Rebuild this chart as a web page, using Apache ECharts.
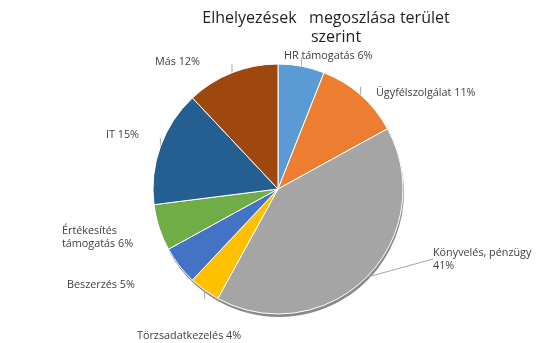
<!DOCTYPE html>
<html><head><meta charset="utf-8">
<script src="https://cdn.jsdelivr.net/npm/echarts@6/dist/echarts.min.js"></script>
<style>html,body{margin:0;padding:0;background:#fff}#c{width:557px;height:343px}</style>
</head><body><div id="c"></div>
<script>
const categories = ['HR támogatás', 'Ügyfélszolgálat', 'Könyvelés, pénzügy', 'Törzsadatkezelés', 'Beszerzés', 'Értékesítés támogatás', 'IT', 'Más'];
const values = [6, 11, 41, 4, 5, 6, 15, 12];
const colors = ['#5B9BD5', '#ED7D31', '#A5A5A5', '#FFC000', '#4472C4', '#70AD47', '#255E91', '#9E480E'];
// label anchor positions (left x, middle y)
const labelPos = [[284, 56], [376, 93], [433, 259], [137, 336], [67, 285], [62, 237], [106, 135], [155, 62]];
// short leader stub direction per slice (-1 up, 1 down, 0 none)
const stubDir = [-1, -1, 0, 1, 0, 0, -1, -1];
const shadowed = [false, false, true, true, true, false, false, false];

const chart = echarts.init(document.getElementById('c'));
const pieBase = {type: 'pie', center: [278, 189], radius: 125, startAngle: 90, clockwise: true};
const titleFont = {fontFamily: 'Open Sans', fontSize: 16, fontWeight: 'normal', color: '#1f1f1f', lineHeight: 19};
chart.setOption({
  animation: false,
  title: {
    text: 'Elhelyezések   megoszlása terület\n{s|szerint}',
    left: 321, top: 4, textAlign: 'center',
    textStyle: Object.assign({rich: {s: Object.assign({padding: [0, 0, 0, 20]}, titleFont)}}, titleFont)
  },
  series: [Object.assign({}, pieBase, {
    z: 2,
    data: categories.map((n, i) => ({
      name: n, value: values[i],
      itemStyle: {color: colors[i]},
      labelLine: {show: i === 2}
    })),
    itemStyle: {borderColor: '#fff', borderWidth: 1},
    label: {
      show: true,
      position: 'outside',
      fontFamily: 'Open Sans', fontSize: 10.8, color: '#404040', lineHeight: 13,
      formatter: p => {
        if (p.dataIndex === 2) return p.name + '\n' + p.value + '%';
        if (p.dataIndex === 5) return p.name.replace(' ', '\n') + ' ' + p.value + '%';
        return p.name + ' ' + p.value + '%';
      }
    },
    labelLine: {length: 6, length2: 0, lineStyle: {color: '#a6a6a6', width: 1}},
    labelLayout: p => ({x: labelPos[p.dataIndex][0], y: labelPos[p.dataIndex][1], align: 'left', verticalAlign: 'middle'})
  }), Object.assign({}, pieBase, {
    z: 1,
    silent: true,
    data: categories.map((n, i) => ({
      name: n, value: values[i],
      itemStyle: {color: 'rgba(0,0,0,0)'},
      label: {show: stubDir[i] !== 0},
      labelLine: {show: stubDir[i] !== 0}
    })),
    label: {position: 'outside', formatter: ' ', fontSize: 1, color: 'rgba(0,0,0,0)'},
    labelLine: {length: 2, length2: 0, lineStyle: {color: '#a6a6a6', width: 1}},
    labelLayout: p => {
      const pts = p.labelLinePoints;
      if (!pts) return {};
      return {x: pts[0][0], y: pts[0][1] + stubDir[p.dataIndex] * 9, align: 'center', verticalAlign: 'middle'};
    }
  }), Object.assign({}, pieBase, {
    z: 0,
    silent: true,
    center: [279, 192],
    label: {show: false},
    labelLine: {show: false},
    data: categories.map((n, i) => ({
      name: n, value: values[i],
      itemStyle: {color: shadowed[i] ? 'rgba(40,40,40,0.55)' : 'rgba(0,0,0,0)', borderWidth: 0}
    }))
  })]
});
</script></body></html>
